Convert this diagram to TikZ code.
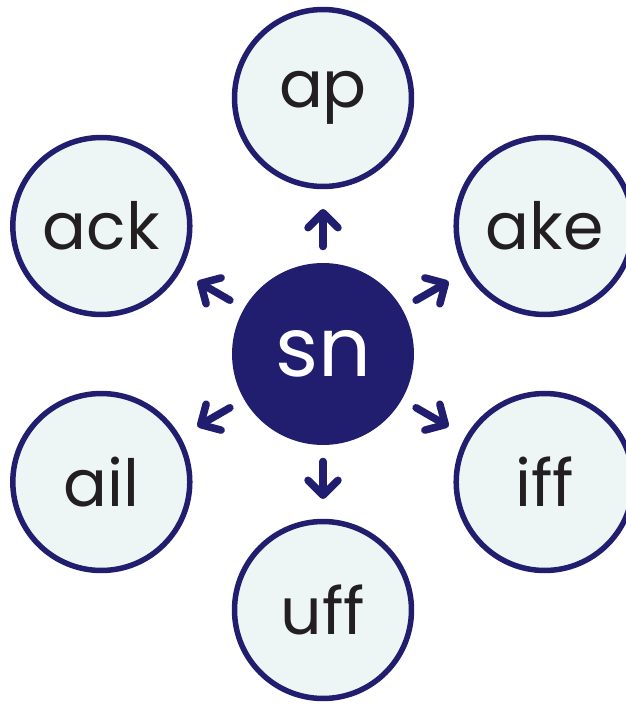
\documentclass[tikz,border=0pt]{standalone}
\usepackage{fontspec}
\setmainfont{Poppins}
\usetikzlibrary{arrows.meta}

\definecolor{navy}{HTML}{211D6F}
\definecolor{paleteal}{HTML}{EDF6F5}
\definecolor{inkgrey}{HTML}{231F20}

\tikzset{
  onset/.style={circle, fill=navy, minimum size=3.64cm, inner sep=0pt,
    text=white, font=\fontsize{47}{47}\selectfont},
  rime/.style={circle, draw=navy, line width=0.11cm, fill=paleteal,
    minimum size=3.54cm, inner sep=0pt,
    text=inkgrey, font=\fontsize{37}{37}\selectfont},
  push/.style={navy, line width=0.15cm, line cap=round,
    -{Straight Barb[round, length=0.3cm, width=0.6cm]},
    shorten <=2.15cm, shorten >=2.22cm}
}

\begin{document}
\begin{tikzpicture}[x=0.02cm, y=0.02cm]
    \useasboundingbox (-323,-350) rectangle (303,354);

    % Centre blend
    \node[onset] (sn) at (0,0) {sn};

    % Word endings round it
    \node[rime] (ap)  at (90:256)  {ap};
    \node[rime] (ake) at (30:256)  {ake};
    \node[rime] (ack) at (150:256) {ack};
    \node[rime] (ail) at (210:256) {ail};
    \node[rime] (iff) at (330:256) {iff};
    \node[rime] (uff) at (270:256) {uff};

    % Arrows out from the blend
    \foreach \w in {ap, ake, ack, ail, iff, uff}
        \draw[push] (sn.center) -- (\w.center);
\end{tikzpicture}
\end{document}
